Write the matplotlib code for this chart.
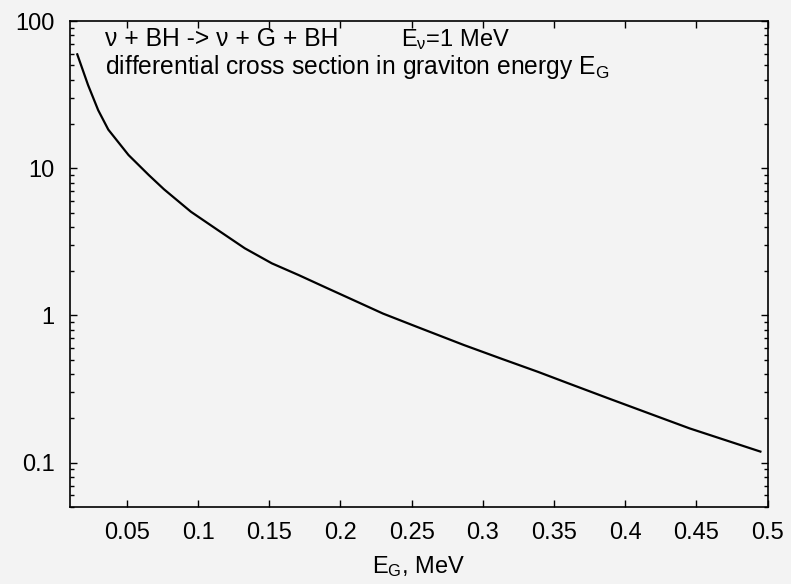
import matplotlib
matplotlib.use("Agg")
import matplotlib.pyplot as plt
from matplotlib.ticker import LogLocator, FixedLocator, NullFormatter

plt.rcParams['font.family'] = ['Liberation Sans', 'DejaVu Sans']
plt.rcParams['mathtext.fontset'] = 'custom'
plt.rcParams['mathtext.rm'] = 'Liberation Sans'
plt.rcParams['mathtext.it'] = 'Liberation Sans'
plt.rcParams['mathtext.default'] = 'regular'

# Data (E_G in MeV, differential cross section)
e_g = [0.0151, 0.0227, 0.0298, 0.0369, 0.0511, 0.0653, 0.076, 0.095,
       0.1139, 0.1328, 0.1518, 0.1707, 0.1896, 0.2062, 0.2299, 0.2536,
       0.2867, 0.3127, 0.3388, 0.3601, 0.3885, 0.4169, 0.4453, 0.4737, 0.495]
dsigma = [59.4, 36.7, 24.8, 18.3, 12.3, 9.0, 7.2, 5.06,
          3.80, 2.86, 2.26, 1.88, 1.55, 1.31, 1.03, 0.838,
          0.63, 0.51, 0.414, 0.346, 0.273, 0.216, 0.171, 0.139, 0.119]

x_ticks = [0.05, 0.1, 0.15, 0.2, 0.25, 0.3, 0.35, 0.4, 0.45, 0.5]
x_labels = ['0.05', '0.1', '0.15', '0.2', '0.25', '0.3', '0.35', '0.4', '0.45', '0.5']
y_ticks = [0.1, 1, 10, 100]
y_labels = ['0.1', '1', '10', '100']

bg = '#f3f3f3'
fig = plt.figure(figsize=(7.91, 5.84), dpi=100, facecolor=bg)
ax = fig.add_axes([0.0885, 0.1318, 0.8818, 0.8322], facecolor=bg)

ax.plot(e_g, dsigma, color='black', lw=1.6)
ax.set_yscale('log')
ax.set_xlim(0.01, 0.5)
ax.set_ylim(0.05, 100)

ax.xaxis.set_major_locator(FixedLocator(x_ticks))
ax.set_xticklabels(x_labels)
ax.yaxis.set_major_locator(FixedLocator(y_ticks))
ax.set_yticklabels(y_labels)
ax.yaxis.set_minor_locator(LogLocator(base=10, subs=range(2, 10), numticks=20))
ax.yaxis.set_minor_formatter(NullFormatter())

ax.tick_params(which='both', direction='in', top=True, right=True, width=1.0, colors='black')
ax.tick_params(which='major', length=5, labelsize=17)
ax.tick_params(which='minor', length=3)
ax.tick_params(axis='y', which='major', pad=11)
ax.tick_params(axis='x', which='major', pad=11)

for s in ax.spines.values():
    s.set_linewidth(1.2)

ax.set_xlabel(r'E$_\mathrm{G}$, MeV', fontsize=17, labelpad=7)

fs = 17.7
fig.text(105 / 791, 1 - 46 / 584, 'ν + BH -> ν + G + BH', fontsize=fs)
fig.text(401 / 791, 1 - 46 / 584, r'E$_\nu$=1 MeV', fontsize=17)
fig.text(105 / 791, 1 - 74 / 584, r'differential cross section in graviton energy E$_\mathrm{G}$', fontsize=fs)

fig.savefig('out.png', dpi=100, facecolor=bg)
